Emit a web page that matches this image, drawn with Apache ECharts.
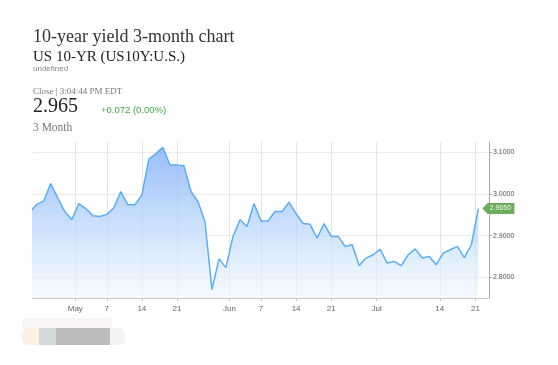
<!DOCTYPE html>
<html>
<head>
<meta charset="utf-8">
<script src="https://cdn.jsdelivr.net/npm/echarts@6/dist/echarts.min.js"></script>
<style>
html,body{margin:0;padding:0;background:#fff;}
#chart{width:558px;height:365px;}
</style>
</head>
<body>
<div id="chart"></div>
<script>
// trading days (index 0 is just left of the visible window)
var dates = ['2018-04-20','2018-04-23','2018-04-24','2018-04-25','2018-04-26','2018-04-27','2018-04-30',
'2018-05-01','2018-05-02','2018-05-03','2018-05-04','2018-05-07','2018-05-08','2018-05-09','2018-05-10','2018-05-11',
'2018-05-14','2018-05-15','2018-05-16','2018-05-17','2018-05-18','2018-05-21','2018-05-22','2018-05-23','2018-05-24','2018-05-25',
'2018-05-29','2018-05-30','2018-05-31','2018-06-01','2018-06-04','2018-06-05','2018-06-06','2018-06-07','2018-06-08',
'2018-06-11','2018-06-12','2018-06-13','2018-06-14','2018-06-15','2018-06-18','2018-06-19','2018-06-20','2018-06-21','2018-06-22',
'2018-06-25','2018-06-26','2018-06-27','2018-06-28','2018-06-29','2018-07-02','2018-07-03','2018-07-05','2018-07-06',
'2018-07-09','2018-07-10','2018-07-11','2018-07-12','2018-07-13','2018-07-16','2018-07-17','2018-07-18','2018-07-19','2018-07-20','2018-07-23'];
var yields = [2.956,2.975,2.983,3.025,2.991,2.958,2.938,
2.977,2.965,2.948,2.946,2.951,2.967,3.006,2.974,2.974,
2.998,3.084,3.097,3.112,3.070,3.070,3.068,3.006,2.982,2.934,
2.770,2.844,2.823,2.898,2.938,2.922,2.977,2.935,2.935,
2.958,2.958,2.980,2.953,2.929,2.927,2.894,2.929,2.898,2.898,
2.874,2.878,2.828,2.846,2.854,2.867,2.834,2.838,2.828,
2.854,2.868,2.846,2.850,2.830,2.858,2.866,2.874,2.847,2.878,2.965];
var tickLabels = ['May','7','14','21','Jun','7','14','21','Jul','14','21'];
var tickPos = [6.5,11,16,21,28.5,33,38,43,49.5,58.5,63.6];
var yTicks = [2.8,2.9,3.0,3.1];
var lastValue = 2.965;

var chart = echarts.init(document.getElementById('chart'), null, {renderer:'canvas'});
var serif = '"Liberation Serif", "Times New Roman", serif';
var sans = '"Liberation Sans", Arial, sans-serif';
var seriesData = yields.map(function(v,i){return [i,v];});
var lastIdx = yields.length - 1;

chart.setOption({
  animation:false,
  backgroundColor:'#fff',
  grid:{left:33,right:69,top:142,bottom:67},
  xAxis:{
    type:'value', min:0.47, max:65.52,
    axisLine:{show:true,lineStyle:{color:'#c8c8c8',width:1}},
    axisTick:{show:true,length:3,lineStyle:{color:'#c8c8c8'},customValues:tickPos},
    axisLabel:{color:'#666',fontSize:8,fontFamily:sans,margin:7,customValues:tickPos,
      formatter:function(v){var k=tickPos.indexOf(v);return k>=0?tickLabels[k]:'';}},
    splitLine:{show:true,lineStyle:{color:'#e4e4e4',width:1}}
  },
  yAxis:{
    type:'value', position:'right', min:2.75, max:3.125,
    axisLine:{show:true,lineStyle:{color:'#aaa',width:1}},
    axisTick:{show:true,length:3,lineStyle:{color:'#aaa'},customValues:yTicks},
    axisLabel:{color:'#555',fontSize:7,fontFamily:sans,margin:4,customValues:yTicks,
      formatter:function(v){return v.toFixed(4);}},
    splitLine:{show:true,lineStyle:{color:'#ececec',width:1}}
  },
  series:[{
    type:'line', data:seriesData, showSymbol:false, symbol:'none', clip:true,
    lineStyle:{color:'#5aaef6',width:1.5},
    areaStyle:{color:new echarts.graphic.LinearGradient(0,0,0,1,[
      {offset:0,color:'#6ea2f7'},{offset:0.4,color:'#a6c9fa'},{offset:0.75,color:'#d6e8fc'},{offset:1,color:'#f3f8ff'}])},
    markPoint:{
      symbol:'path://M0,6 L6,0 L36,0 L36,12 L6,12 Z',
      symbolSize:[32,11], symbolKeepAspect:false,
      symbolOffset:[20,0],
      itemStyle:{color:'#6cac5c'},
      label:{show:true,position:'inside',offset:[2,0],color:'#f2f8ef',fontSize:7,fontFamily:sans,
        formatter:function(){return lastValue.toFixed(4);}},
      data:[{coord:[lastIdx,lastValue]}]
    }
  }],
  graphic:[
    {type:'text',x:33,y:37,style:{text:'10-year yield 3-month chart',font:'18px '+serif,fill:'#333',textVerticalAlign:'middle'}},
    {type:'text',x:33,y:57,style:{text:'US 10-YR (US10Y:U.S.)',font:'15px '+serif,fill:'#222',textVerticalAlign:'middle'}},
    {type:'text',x:33,y:69,style:{text:'undefined',font:'8px '+sans,fill:'#888',textVerticalAlign:'middle'}},
    {type:'text',x:33,y:92,style:{text:'Close | 3:04:44 PM EDT',font:'9px '+serif,fill:'#777',textVerticalAlign:'middle'}},
    {type:'text',x:33,y:107,style:{text:'2.965',font:'20px '+serif,fill:'#222',textVerticalAlign:'middle'}},
    {type:'text',x:101,y:110,style:{text:'+0.072 (0.00%)',font:'9.5px '+sans,fill:'#43a947',textVerticalAlign:'middle'}},
    {type:'text',x:33,y:128,style:{text:'3 Month',font:'11.5px '+serif,fill:'#777',textVerticalAlign:'middle'}},
    {type:'rect',shape:{x:22,y:328,width:17,height:17,r:[6,0,0,6]},style:{fill:'#fdf0e2'}},
    {type:'rect',shape:{x:39,y:328,width:17,height:17},style:{fill:'#d3dbda'}},
    {type:'rect',shape:{x:56,y:328,width:54,height:17},style:{fill:'#bcbcbc'}},
    {type:'rect',shape:{x:110,y:328,width:15,height:17,r:[0,6,6,0]},style:{fill:'#f4f4f4'}},
    {type:'rect',shape:{x:22,y:318,width:90,height:10,r:[4,4,0,0]},style:{fill:'#f8f4f6'}}
  ]
});
</script>
</body>
</html>
